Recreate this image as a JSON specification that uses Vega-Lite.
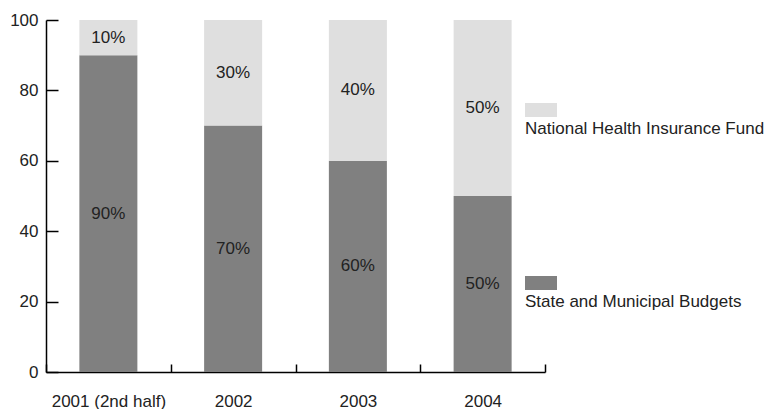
{
  "$schema": "https://vega.github.io/schema/vega-lite/v6.json",
  "width": 499,
  "height": 352,
  "autosize": {"type": "none"},
  "padding": {"left": 46, "top": 20, "right": 225, "bottom": 37},
  "background": "white",
  "config": {
    "view": {"stroke": null},
    "font": "Liberation Sans",
    "axis": {
      "labelFont": "Liberation Sans",
      "labelFontSize": 17,
      "labelColor": "#222222",
      "domainColor": "#000000",
      "tickColor": "#000000",
      "domainWidth": 1.5,
      "tickWidth": 1.5,
      "grid": false,
      "title": null
    }
  },
  "data": {
    "values": [
      {"year": "2001 (2nd half)", "source": "State and Municipal Budgets", "share": 90, "label": "90%"},
      {"year": "2001 (2nd half)", "source": "National Health Insurance Fund", "share": 10, "label": "10%"},
      {"year": "2002", "source": "State and Municipal Budgets", "share": 70, "label": "70%"},
      {"year": "2002", "source": "National Health Insurance Fund", "share": 30, "label": "30%"},
      {"year": "2003", "source": "State and Municipal Budgets", "share": 60, "label": "60%"},
      {"year": "2003", "source": "National Health Insurance Fund", "share": 40, "label": "40%"},
      {"year": "2004", "source": "State and Municipal Budgets", "share": 50, "label": "50%"},
      {"year": "2004", "source": "National Health Insurance Fund", "share": 50, "label": "50%"}
    ]
  },
  "transform": [
    {"stack": "share", "groupby": ["year"], "sort": [{"field": "source", "order": "descending"}], "as": ["v0", "v1"]},
    {"calculate": "(datum.v0 + datum.v1) / 2", "as": "mid"}
  ],
  "resolve": {"axis": {"y": "independent"}},
  "encoding": {
    "x": {
      "field": "year",
      "type": "nominal",
      "sort": null,
      "scale": {"paddingInner": 0, "paddingOuter": 0},
      "axis": {"labelAngle": 0, "tickBand": "extent", "tickSize": -8, "labelPadding": 29}
    }
  },
  "layer": [
    {
      "mark": {"type": "bar", "width": {"band": 0.465}},
      "encoding": {
        "y": {
          "field": "v1",
          "type": "quantitative",
          "scale": {"domain": [0, 100], "nice": false},
          "axis": {"values": [0, 20, 40, 60, 80, 100], "tickSize": -12, "labelPadding": 20, "tickColor": "#000000", "tickWidth": 1.5}
        },
        "y2": {"field": "v0"},
        "color": {
          "field": "source",
          "type": "nominal",
          "scale": {
            "domain": ["National Health Insurance Fund", "State and Municipal Budgets"],
            "range": ["#dfdfdf", "#808080"]
          },
          "legend": {
            "title": null,
            "orient": "none",
            "legendX": 479,
            "legendY": 85,
            "symbolType": "M-1,-1.125H1V-0.25H-1Z",
            "symbolSize": 1024,
            "symbolStrokeWidth": 0,
            "symbolOpacity": 1,
            "labelFont": "Liberation Sans",
            "labelFontSize": 17,
            "labelColor": "#222222",
            "labelBaseline": "top",
            "labelOffset": -32,
            "labelLimit": 300,
            "rowPadding": 139
          }
        }
      }
    },
    {
      "mark": {"type": "text", "fontSize": 17, "font": "Liberation Sans", "color": "#222222", "align": "center", "baseline": "middle"},
      "encoding": {
        "y": {"field": "mid", "type": "quantitative", "axis": null},
        "text": {"field": "label", "type": "nominal"}
      }
    }
  ]
}
